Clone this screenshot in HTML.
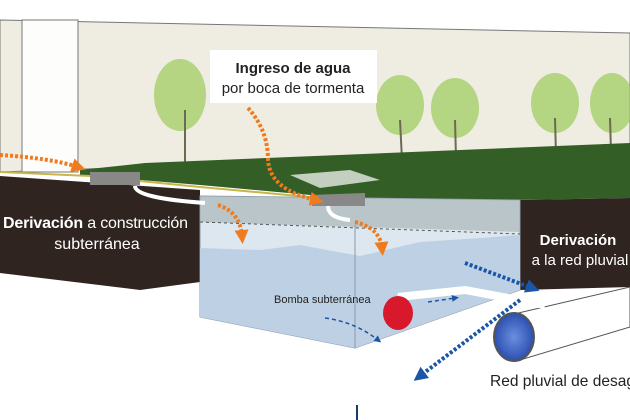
<!DOCTYPE html>
<html><head><meta charset="utf-8"><style>
html,body{margin:0;padding:0;background:#fff;width:630px;height:420px;overflow:hidden}
svg{display:block}
text{font-family:"Liberation Sans",sans-serif}
</style></head><body>
<svg width="630" height="420" viewBox="0 0 630 420" xmlns="http://www.w3.org/2000/svg">
<defs>
<marker id="oa" markerUnits="userSpaceOnUse" markerWidth="14" markerHeight="14" refX="6" refY="7" orient="auto"><path d="M0,0 L14,7 L0,14 Z" fill="#f07a1e"/></marker>
<marker id="ba" markerUnits="userSpaceOnUse" markerWidth="14" markerHeight="14" refX="6" refY="7" orient="auto"><path d="M0,0 L14,7 L0,14 Z" fill="#1a55a8"/></marker>
<marker id="bs" markerUnits="userSpaceOnUse" markerWidth="7" markerHeight="7" refX="3" refY="3.5" orient="auto"><path d="M0,0 L7,3.5 L0,7 Z" fill="#1a55a8"/></marker>
<radialGradient id="pc"><stop offset="0" stop-color="#6a8fe0"/><stop offset="1" stop-color="#2c4fb0"/></radialGradient>
</defs>
<polygon points="0,20 630,33 630,150 0,172" fill="#efede2" stroke="#777" stroke-width="1"/>
<rect x="22" y="20" width="56" height="152" fill="#fdfdfb" stroke="#777" stroke-width="1"/>
<g fill="#9ccb5a" opacity="0.7">
<ellipse cx="180" cy="95" rx="26" ry="36"/>
<ellipse cx="400" cy="105" rx="24" ry="30"/>
<ellipse cx="455" cy="108" rx="24" ry="30"/>
<ellipse cx="555" cy="103" rx="24" ry="30"/>
<ellipse cx="612" cy="103" rx="22" ry="30"/>
</g>
<g stroke="#6b6a55" stroke-width="2">
<line x1="185" y1="110" x2="185" y2="165"/><line x1="400" y1="120" x2="402" y2="160"/>
<line x1="455" y1="120" x2="456" y2="158"/><line x1="555" y1="118" x2="556" y2="155"/><line x1="610" y1="118" x2="611" y2="152"/>
</g>
<polygon points="80,170 145,163 630,143 630,198 520,200 365,200 200,185 80,175" fill="#335e26"/>
<polygon points="290,175 350,170 380,180 320,188" fill="#e8ece6" opacity="0.8"/>
<polyline points="0,172 90,176 200,187 365,202 630,200" fill="none" stroke="#c9b64a" stroke-width="2"/>
<polygon points="0,176 200,190 200,282 140,290 0,273" fill="#2f2420"/>
<polygon points="520,200 630,198 630,287 520,290" fill="#2f2420"/>
<polygon points="200,196 520,200 520,290 355,348 200,317" fill="#dde7f0" stroke="#8a99a8" stroke-width="1"/>
<polygon points="200,196 520,200 520,232 200,222" fill="#a9b6b8" opacity="0.7"/>
<polygon points="200,248 260,250 300,245 360,256 420,242 480,238 520,235 520,290 355,348 200,317" fill="#bed1e4"/>
<line x1="355" y1="225" x2="355" y2="348" stroke="#8a99a8" stroke-width="1"/>
<line x1="200" y1="222" x2="520" y2="234" stroke="#555" stroke-width="1" stroke-dasharray="3,3"/>
<rect x="90" y="172" width="50" height="13" fill="#888"/>
<polygon points="310,195 365,193 365,206 312,206" fill="#888"/>
<path d="M135,186 Q135,198 205,203" fill="none" stroke="#fff" stroke-width="4"/>
<path d="M328,206 Q328,218 350,220" fill="none" stroke="#fff" stroke-width="4"/>
<polygon points="514,314 630,287 630,327 520,360" fill="#fff" stroke="#555" stroke-width="1"/>
<path d="M398,297 L465,290 L545,305" fill="none" stroke="#fff" stroke-width="8"/>
<ellipse cx="514" cy="337" rx="20" ry="24" fill="url(#pc)" stroke="#555" stroke-width="2"/>
<ellipse cx="398" cy="313" rx="15" ry="17" fill="#d8192b"/>
<path d="M385,340 L395,340" stroke="#fff" stroke-width="4"/>
<g fill="none" stroke="#f07a1e" stroke-width="4" stroke-dasharray="3,2" marker-end="url(#oa)">
<path d="M0,155 Q50,158 78,167"/>
<path d="M248,108 Q268,130 268,160 Q270,190 316,200"/>
<path d="M218,205 Q240,212 242,236"/>
<path d="M355,222 Q380,228 382,248"/>
</g>
<g fill="none" stroke="#1a55a8" stroke-width="4" stroke-dasharray="3,2" marker-end="url(#ba)">
<path d="M465,263 L532,288"/>
<path d="M520,300 L420,376"/>
</g>
<g fill="none" stroke="#1a55a8" stroke-width="1.5" stroke-dasharray="4,3" marker-end="url(#bs)">
<path d="M428,302 L455,298"/>
<path d="M325,318 Q355,322 378,340"/>
</g>
<line x1="357" y1="405" x2="357" y2="420" stroke="#1a3a6a" stroke-width="2"/>
<rect x="210" y="50" width="167" height="53" fill="#fff"/>
<text x="293" y="73" font-size="15" font-weight="bold" text-anchor="middle" fill="#222">Ingreso de agua</text>
<text x="293" y="93" font-size="15" text-anchor="middle" fill="#222">por boca de tormenta</text>
<text x="3" y="228" font-size="16" fill="#fff" textLength="185"><tspan font-weight="bold">Derivación</tspan> a construcción</text>
<text x="97" y="249" font-size="16" fill="#fff" text-anchor="middle">subterránea</text>
<text x="578" y="245" font-size="15" font-weight="bold" fill="#fff" text-anchor="middle">Derivación</text>
<text x="580" y="265" font-size="15" fill="#fff" text-anchor="middle">a la red pluvial</text>
<text x="274" y="303" font-size="11" fill="#222">Bomba subterránea</text>
<text x="490" y="386" font-size="16" fill="#222" textLength="145" lengthAdjust="spacingAndGlyphs">Red pluvial de desag</text>
</svg>
</body></html>
